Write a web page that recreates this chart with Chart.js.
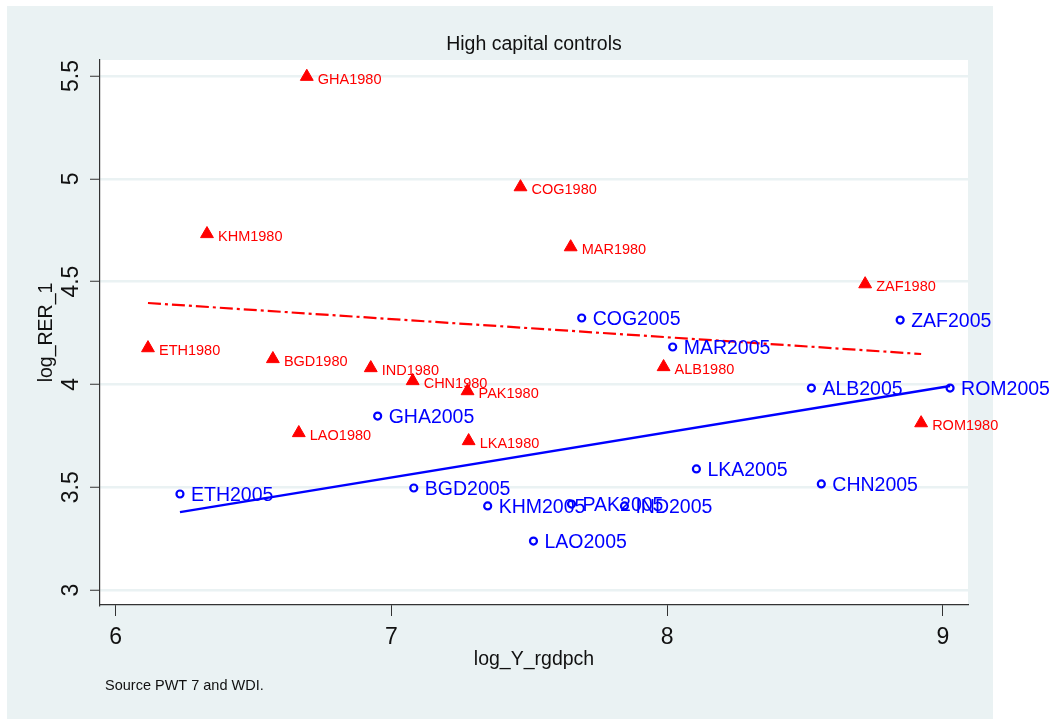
<!DOCTYPE html>
<html>
<head>
<meta charset="utf-8">
<title>High capital controls</title>
<script src="https://cdn.jsdelivr.net/npm/chart.js@4/dist/chart.umd.min.js"></script>
<style>
  html, body { margin: 0; padding: 0; background: #ffffff; }
  canvas { display: block; }
</style>
</head>
<body>
<canvas id="chart" width="1054" height="719"></canvas>
<script>
// Observations for 1980 (red triangles)
const labels1980 = ['GHA1980','COG1980','KHM1980','MAR1980','ZAF1980','ETH1980','BGD1980',
                    'IND1980','CHN1980','PAK1980','ALB1980','ROM1980','LAO1980','LKA1980'];
const x1980 = [6.693, 7.468, 6.331, 7.650, 8.718, 6.117, 6.570, 6.925, 7.077, 7.276, 7.987, 8.921, 6.664, 7.280];
const y1980 = [5.497, 4.960, 4.732, 4.668, 4.488, 4.177, 4.124, 4.080, 4.017, 3.968, 4.085, 3.812, 3.764, 3.725];

// Observations for 2005 (blue hollow circles)
const labels2005 = ['ETH2005','GHA2005','BGD2005','KHM2005','PAK2005','IND2005','LAO2005',
                    'LKA2005','CHN2005','COG2005','MAR2005','ZAF2005','ALB2005','ROM2005'];
const x2005 = [6.233, 6.950, 7.081, 7.349, 7.653, 7.845, 7.515, 8.106, 8.559, 7.690, 8.020, 8.845, 8.523, 9.026];
const y2005 = [3.467, 3.846, 3.496, 3.409, 3.418, 3.409, 3.238, 3.589, 3.516, 4.323, 4.182, 4.313, 3.982, 3.982];

// Linear fit end points for each year
const fit1980X = [6.117, 8.921];
const fit1980Y = [4.396, 4.148];
const fit2005X = [6.233, 9.026];
const fit2005Y = [3.379, 3.992];

// Axis ticks
const xTicks = [6, 7, 8, 9];
const yTicks = [3, 3.5, 4, 4.5, 5, 5.5];
const yTickLabels = ['3', '3.5', '4', '4.5', '5', '5.5'];

// Text
const chartTitle = 'High capital controls';
const xTitle = 'log_Y_rgdpch';
const yTitle = 'log_RER_1';
const noteText = 'Source PWT 7 and WDI.';

const FONT = '"Liberation Sans", Arial, Helvetica, sans-serif';
const BG = '#eaf2f3';
const RED = '#ff0000';
const BLUE = '#0000ff';

const toPoints = (xs, ys) => xs.map((x, i) => ({ x: x, y: ys[i] }));

// Background panel, white plot region, titles, tick labels and point labels
const decor = {
  id: 'decor',
  beforeDraw(chart) {
    const { ctx, chartArea: a } = chart;
    ctx.save();
    ctx.fillStyle = '#ffffff';
    ctx.fillRect(0, 0, chart.width, chart.height);
    ctx.fillStyle = BG;
    ctx.fillRect(7, 6, 986, 713);
    ctx.fillStyle = '#ffffff';
    ctx.fillRect(a.left, a.top, a.right - a.left, a.bottom - a.top);
    ctx.restore();
  },
  afterDraw(chart) {
    const { ctx, chartArea: a, scales } = chart;
    const cx = (a.left + a.right) / 2;
    ctx.save();
    ctx.fillStyle = '#111111';
    ctx.textBaseline = 'middle';

    // title
    ctx.font = '19.5px ' + FONT;
    ctx.textAlign = 'center';
    ctx.fillText(chartTitle, cx, 45);

    // x axis title
    ctx.fillText(xTitle, cx, 660);

    // y axis title
    ctx.save();
    ctx.translate(47, (a.top + a.bottom) / 2);
    ctx.rotate(-Math.PI / 2);
    ctx.fillText(yTitle, 0, 0);
    ctx.restore();

    // x tick labels
    ctx.font = '23px ' + FONT;
    xTicks.forEach(v => {
      ctx.fillText(String(v), scales.x.getPixelForValue(v), 638);
    });

    // y tick labels (rotated)
    yTicks.forEach((v, i) => {
      ctx.save();
      ctx.translate(72, scales.y.getPixelForValue(v));
      ctx.rotate(-Math.PI / 2);
      ctx.fillText(yTickLabels[i], 0, 0);
      ctx.restore();
    });

    // note
    ctx.font = '14.5px ' + FONT;
    ctx.textAlign = 'left';
    ctx.fillText(noteText, 105, 686);

    // point labels
    const drawLabels = (dsIndex, labels, size, color, dy) => {
      const meta = chart.getDatasetMeta(dsIndex);
      ctx.font = size + 'px ' + FONT;
      ctx.fillStyle = color;
      ctx.textAlign = 'left';
      meta.data.forEach((pt, i) => {
        ctx.fillText(labels[i], pt.x + 11, pt.y + dy);
      });
    };
    drawLabels(0, labels1980, 14.5, RED, 3);
    drawLabels(1, labels2005, 19.5, BLUE, 1.5);
    ctx.restore();
  }
};

new Chart(document.getElementById('chart'), {
  type: 'scatter',
  data: {
    datasets: [
      {
        label: '1980',
        data: toPoints(x1980, y1980),
        pointStyle: 'triangle',
        pointRadius: 7.4,
        backgroundColor: RED,
        borderColor: RED,
        borderWidth: 1
      },
      {
        label: '2005',
        data: toPoints(x2005, y2005),
        pointStyle: 'circle',
        pointRadius: 3.5,
        backgroundColor: 'rgba(0,0,0,0)',
        borderColor: BLUE,
        borderWidth: 2.2
      },
      {
        label: 'Fit 1980',
        type: 'line',
        data: toPoints(fit1980X, fit1980Y),
        showLine: true,
        pointRadius: 0,
        borderColor: RED,
        borderWidth: 2.2,
        borderDash: [13, 4, 3, 4],
        fill: false
      },
      {
        label: 'Fit 2005',
        type: 'line',
        data: toPoints(fit2005X, fit2005Y),
        showLine: true,
        pointRadius: 0,
        borderColor: BLUE,
        borderWidth: 2.4,
        fill: false
      }
    ]
  },
  options: {
    responsive: false,
    animation: false,
    devicePixelRatio: 1,
    layout: { padding: { left: 0, top: 60, right: 86, bottom: 0 } },
    plugins: {
      legend: { display: false },
      tooltip: { enabled: false },
      title: { display: false }
    },
    scales: {
      x: {
        type: 'linear',
        min: 5.943,
        max: 9.091,
        afterBuildTicks: s => { s.ticks = xTicks.map(v => ({ value: v })); },
        afterFit: s => { s.height = 114; },
        ticks: { display: false },
        grid: {
          drawOnChartArea: false,
          drawTicks: true,
          tickLength: 11,
          tickColor: '#333333',
          tickWidth: 1
        },
        border: { display: true, color: '#333333', width: 1.2 }
      },
      y: {
        type: 'linear',
        min: 2.927,
        max: 5.578,
        afterBuildTicks: s => { s.ticks = yTicks.map(v => ({ value: v })); },
        afterFit: s => { s.width = 100; },
        ticks: { display: false },
        grid: {
          drawOnChartArea: true,
          color: BG,
          lineWidth: 2.5,
          drawTicks: true,
          tickLength: 10,
          tickColor: '#333333',
          tickWidth: 1
        },
        border: { display: true, color: '#333333', width: 1.2 }
      }
    }
  },
  plugins: [decor]
});
</script>
</body>
</html>
